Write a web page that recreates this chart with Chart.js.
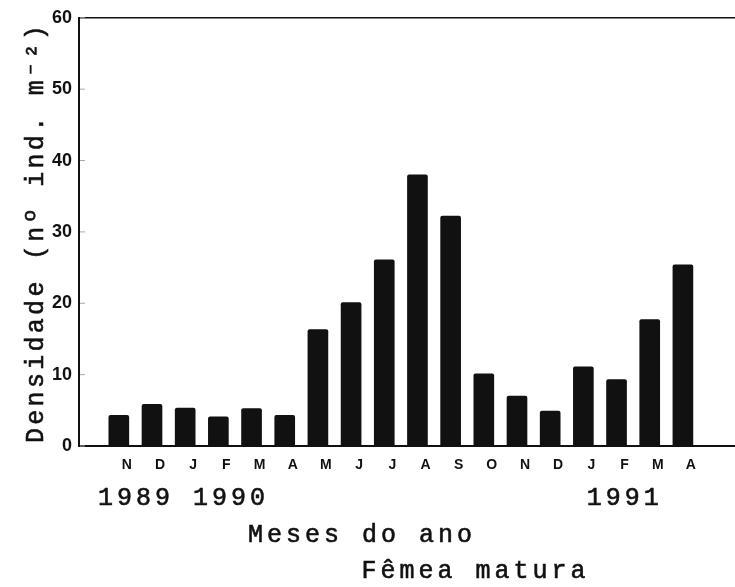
<!DOCTYPE html>
<html lang="pt">
<head>
<meta charset="utf-8">
<title>Fêmea matura</title>
<script src="https://cdn.jsdelivr.net/npm/chart.js@4.4.1/dist/chart.umd.min.js"></script>
<style>
  html, body { margin: 0; padding: 0; background: #fff; }
  #chart { display: block; }
</style>
</head>
<body>
<canvas id="chart" width="735" height="587"></canvas>
<script>
// meses de coleta, nov/1989 a abr/1991
const months = ['N', 'D', 'J', 'F', 'M', 'A', 'M', 'J', 'J', 'A', 'S', 'O', 'N', 'D', 'J', 'F', 'M', 'A'];
// densidade de fêmeas maturas (nº ind. m⁻²)
const density = [4.3, 5.85, 5.3, 4.1, 5.25, 4.3, 16.3, 20.1, 26.1, 38.0, 32.2, 10.1, 7.0, 4.9, 11.1, 9.3, 17.7, 25.4];
const yTicks = [0, 10, 20, 30, 40, 50, 60];
const yearLabels = ['1989 1990', '1991'];
const xTitle = 'Meses do ano';
const caption = 'Fêmea matura';
const yTitle = 'Densidade (nº ind. m⁻²)';

const INK = '#111';
const MONO = '25px "Liberation Mono", monospace';

// texto com espaçamento entre letras (fonte de máquina de escrever)
function spacedText(ctx, text, x, y, spacing) {
    if ('letterSpacing' in ctx) {
        ctx.letterSpacing = spacing + 'px';
        ctx.fillText(text, x, y);
        ctx.strokeText(text, x, y);
        ctx.letterSpacing = '0px';
    } else {
        let cx = x;
        for (const ch of text) {
            ctx.fillText(ch, cx, y);
            ctx.strokeText(ch, cx, y);
            cx += ctx.measureText(ch).width + spacing;
        }
    }
}

const textPlugin = {
    id: 'textos',
    afterDraw(chart) {
        const { ctx, chartArea, scales } = chart;
        const x = scales.x;
        ctx.save();

        // linha superior do quadro
        ctx.strokeStyle = INK;
        ctx.lineWidth = 1.5;
        ctx.beginPath();
        ctx.moveTo(chartArea.left, chartArea.top);
        ctx.lineTo(chart.width, chartArea.top);
        ctx.stroke();

        // marcas internas do eixo y
        ctx.strokeStyle = '#aaa';
        ctx.lineWidth = 1;
        yTicks.forEach(v => {
            const py = scales.y.getPixelForValue(v);
            ctx.beginPath();
            ctx.moveTo(chartArea.left + 1, py);
            ctx.lineTo(chartArea.left + 6, py);
            ctx.stroke();
        });

        ctx.fillStyle = INK;
        ctx.strokeStyle = INK;
        ctx.lineWidth = 0.6;
        ctx.font = MONO;
        ctx.textAlign = 'left';
        ctx.textBaseline = 'alphabetic';
        spacedText(ctx, yearLabels[0], x.getPixelForValue(0.37), 505, 4);
        spacedText(ctx, yearLabels[1], x.getPixelForValue(15.1), 505, 4);
        spacedText(ctx, xTitle, x.getPixelForValue(4.89), 542, 4);
        spacedText(ctx, caption, x.getPixelForValue(8.31), 578, 4);

        ctx.translate(43, 443);
        ctx.rotate(-Math.PI / 2);
        spacedText(ctx, yTitle, 0, 0, 3.3);
        ctx.restore();
    }
};

new Chart(document.getElementById('chart'), {
    type: 'bar',
    data: {
        datasets: [{
            data: months.map((m, i) => ({ x: i + 1, y: density[i] })),
            backgroundColor: INK,
            barThickness: 20,
            borderRadius: 2,
            borderSkipped: 'bottom'
        }]
    },
    options: {
        responsive: false,
        animation: false,
        layout: { padding: { top: 15, left: 0, right: 0, bottom: 0 } },
        plugins: {
            legend: { display: false },
            tooltip: { enabled: false }
        },
        scales: {
            x: {
                type: 'linear',
                min: -0.2,
                max: 19.57,
                offset: false,
                grid: { display: false, drawTicks: false },
                border: { color: INK, width: 2 },
                afterBuildTicks: s => { s.ticks = months.map((_, i) => ({ value: i + 1 })); },
                afterFit: s => { s.height = 141; },
                ticks: {
                    autoSkip: false,
                    maxRotation: 0,
                    padding: 11,
                    labelOffset: 8,
                    color: INK,
                    font: { family: 'Liberation Sans', size: 14, weight: 'bold' },
                    callback: v => months[v - 1]
                }
            },
            y: {
                min: 0,
                max: 60,
                grid: { display: false, drawTicks: false },
                border: { color: INK, width: 2 },
                afterBuildTicks: s => { s.ticks = yTicks.map(v => ({ value: v })); },
                afterFit: s => { s.width = 79; },
                ticks: {
                    padding: 7,
                    color: INK,
                    font: { family: 'Liberation Sans', size: 18, weight: 'bold' }
                }
            }
        }
    },
    plugins: [textPlugin]
});
</script>
</body>
</html>
